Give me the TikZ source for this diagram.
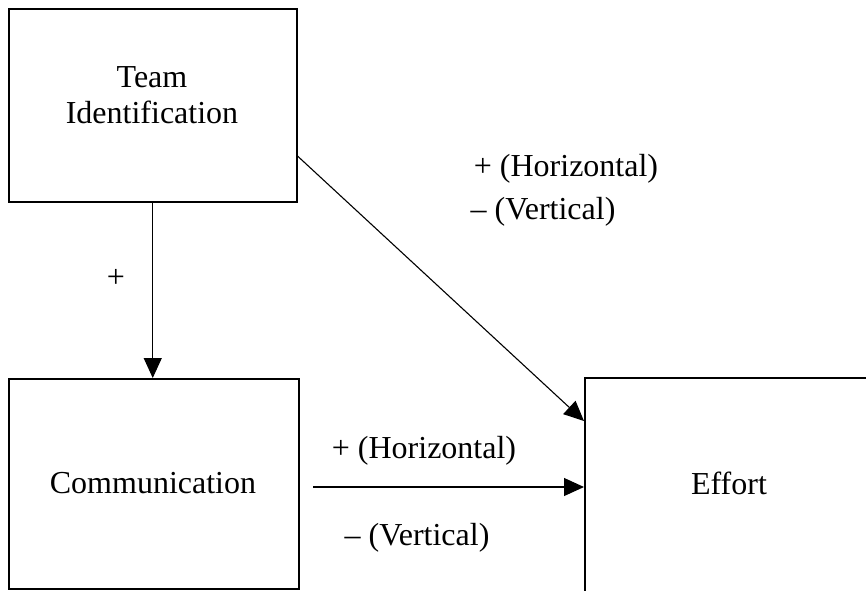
\documentclass[tikz,border=0pt]{standalone}
\usepackage{fontspec}
\setmainfont{Liberation Serif}
\usetikzlibrary{arrows.meta,calc}
\tikzset{
  boxnode/.style={draw=black, line width=1.5pt, rectangle, inner sep=0pt, anchor=north west},
  txt/.style={inner sep=0pt, font=\fontsize{32}{36}\selectfont, align=center},
  arr/.style={line width=1.1pt, -{Triangle[length=20pt,width=18pt]}}
}
\begin{document}
\begin{tikzpicture}[x=1pt,y=-1pt]
\useasboundingbox (0,0) rectangle (866,590);
\begin{scope}
\clip (0,0) rectangle (866,590);
\node[boxnode, minimum width=288pt, minimum height=193pt] (team) at (8,8) {};
\node[boxnode, minimum width=290pt, minimum height=210pt] (comm) at (8,378) {};
\node[boxnode, minimum width=290pt, minimum height=214pt] (effort) at (584,377) {};
\end{scope}
\node[txt] (teamtxt) at (152,95) {Team\\Identification};
\node[txt] (commtxt) at (153,483) {Communication};
\node[txt] (efforttxt) at (729,483) {Effort};
\node[txt] (plusv) at (116,278) {+};
\node[txt] (diagp) at (566,169) {+ (Horizontal)};
\node[txt] (diagm) at (543,212) {– (Vertical)};
\node[txt] (horp) at (424,451) {+ (Horizontal)};
\node[txt] (horm) at (417,538) {– (Vertical)};
\draw[arr] (team.south) -- (team.south |- comm.north);
\draw[arr] ($(team.north east)+(0,148)$) -- ($(effort.north west)+(0,44)$);
\coordinate (hstart) at (313,487);
\draw[arr] (hstart) -- (hstart -| effort.west);
\end{tikzpicture}
\end{document}
